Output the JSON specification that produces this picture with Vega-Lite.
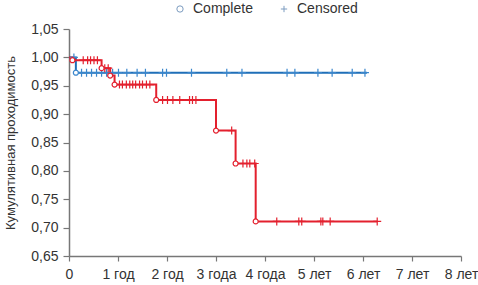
{
  "$schema": "https://vega.github.io/schema/vega-lite/v6.json",
  "width": 392,
  "height": 227,
  "autosize": "none",
  "padding": {"left": 69, "top": 29, "right": 17, "bottom": 29},
  "config": {
    "view": {"stroke": null},
    "font": "Liberation Sans",
    "axis": {"grid": false, "domainColor": "#777", "domainWidth": 1.5, "tickColor": "#777", "tickWidth": 1.2, "labelFont": "Liberation Sans", "labelFontSize": 14, "labelColor": "#333", "titleFont": "Liberation Sans", "titleFontWeight": "normal", "titleColor": "#333"},
    "legend": {"symbolStrokeColor": "#7c9cc0", "symbolFillColor": "white", "symbolStrokeWidth": 1, "symbolOpacity": 1}
  },
  "data": {"values": [
    {"g": "b", "t": 0, "s": 1.0, "type": "start"},
    {"g": "b", "t": 0.1, "s": 1.0, "type": "Censored"},
    {"g": "b", "t": 0.14, "s": 0.973, "type": "Complete"},
    {"g": "b", "t": 0.256, "s": 0.973, "type": "Censored"},
    {"g": "b", "t": 0.358, "s": 0.973, "type": "Censored"},
    {"g": "b", "t": 0.46, "s": 0.973, "type": "Censored"},
    {"g": "b", "t": 0.562, "s": 0.973, "type": "Censored"},
    {"g": "b", "t": 0.665, "s": 0.973, "type": "Censored"},
    {"g": "b", "t": 0.767, "s": 0.973, "type": "Censored"},
    {"g": "b", "t": 0.89, "s": 0.973, "type": "Censored"},
    {"g": "b", "t": 1.01, "s": 0.973, "type": "Censored"},
    {"g": "b", "t": 1.18, "s": 0.973, "type": "Censored"},
    {"g": "b", "t": 1.39, "s": 0.973, "type": "Censored"},
    {"g": "b", "t": 1.56, "s": 0.973, "type": "Censored"},
    {"g": "b", "t": 1.91, "s": 0.973, "type": "Censored"},
    {"g": "b", "t": 1.99, "s": 0.973, "type": "Censored"},
    {"g": "b", "t": 2.5, "s": 0.973, "type": "Censored"},
    {"g": "b", "t": 3.22, "s": 0.973, "type": "Censored"},
    {"g": "b", "t": 3.53, "s": 0.973, "type": "Censored"},
    {"g": "b", "t": 4.45, "s": 0.973, "type": "Censored"},
    {"g": "b", "t": 4.61, "s": 0.973, "type": "Censored"},
    {"g": "b", "t": 5.08, "s": 0.973, "type": "Censored"},
    {"g": "b", "t": 5.37, "s": 0.973, "type": "Censored"},
    {"g": "b", "t": 5.78, "s": 0.973, "type": "Censored"},
    {"g": "b", "t": 6.04, "s": 0.973, "type": "Censored"},
    {"g": "b", "t": 6.08, "s": 0.973, "type": "end"},
    {"g": "r", "t": 0, "s": 1.0, "type": "start"},
    {"g": "r", "t": 0.07, "s": 0.995, "type": "Complete"},
    {"g": "r", "t": 0.29, "s": 0.995, "type": "Censored"},
    {"g": "r", "t": 0.38, "s": 0.995, "type": "Censored"},
    {"g": "r", "t": 0.44, "s": 0.995, "type": "Censored"},
    {"g": "r", "t": 0.51, "s": 0.995, "type": "Censored"},
    {"g": "r", "t": 0.58, "s": 0.995, "type": "Censored"},
    {"g": "r", "t": 0.665, "s": 0.981, "type": "Complete"},
    {"g": "r", "t": 0.73, "s": 0.981, "type": "Censored"},
    {"g": "r", "t": 0.8, "s": 0.981, "type": "Censored"},
    {"g": "r", "t": 0.84, "s": 0.968, "type": "Complete"},
    {"g": "r", "t": 0.93, "s": 0.952, "type": "Complete"},
    {"g": "r", "t": 1.03, "s": 0.952, "type": "Censored"},
    {"g": "r", "t": 1.09, "s": 0.952, "type": "Censored"},
    {"g": "r", "t": 1.17, "s": 0.952, "type": "Censored"},
    {"g": "r", "t": 1.24, "s": 0.952, "type": "Censored"},
    {"g": "r", "t": 1.3, "s": 0.952, "type": "Censored"},
    {"g": "r", "t": 1.36, "s": 0.952, "type": "Censored"},
    {"g": "r", "t": 1.44, "s": 0.952, "type": "Censored"},
    {"g": "r", "t": 1.5, "s": 0.952, "type": "Censored"},
    {"g": "r", "t": 1.58, "s": 0.952, "type": "Censored"},
    {"g": "r", "t": 1.65, "s": 0.952, "type": "Censored"},
    {"g": "r", "t": 1.78, "s": 0.925, "type": "Complete"},
    {"g": "r", "t": 1.91, "s": 0.925, "type": "Censored"},
    {"g": "r", "t": 2.01, "s": 0.925, "type": "Censored"},
    {"g": "r", "t": 2.12, "s": 0.925, "type": "Censored"},
    {"g": "r", "t": 2.26, "s": 0.925, "type": "Censored"},
    {"g": "r", "t": 2.46, "s": 0.925, "type": "Censored"},
    {"g": "r", "t": 2.52, "s": 0.925, "type": "Censored"},
    {"g": "r", "t": 2.59, "s": 0.925, "type": "Censored"},
    {"g": "r", "t": 3.0, "s": 0.871, "type": "Complete"},
    {"g": "r", "t": 3.32, "s": 0.871, "type": "Censored"},
    {"g": "r", "t": 3.4, "s": 0.813, "type": "Complete"},
    {"g": "r", "t": 3.55, "s": 0.813, "type": "Censored"},
    {"g": "r", "t": 3.63, "s": 0.813, "type": "Censored"},
    {"g": "r", "t": 3.69, "s": 0.813, "type": "Censored"},
    {"g": "r", "t": 3.79, "s": 0.813, "type": "Censored"},
    {"g": "r", "t": 3.81, "s": 0.711, "type": "Complete"},
    {"g": "r", "t": 4.24, "s": 0.711, "type": "Censored"},
    {"g": "r", "t": 4.69, "s": 0.711, "type": "Censored"},
    {"g": "r", "t": 4.75, "s": 0.711, "type": "Censored"},
    {"g": "r", "t": 5.14, "s": 0.711, "type": "Censored"},
    {"g": "r", "t": 5.18, "s": 0.711, "type": "Censored"},
    {"g": "r", "t": 5.33, "s": 0.711, "type": "Censored"},
    {"g": "r", "t": 6.29, "s": 0.711, "type": "Censored"}
  ]},
  "encoding": {
    "x": {"field": "t", "type": "quantitative", "scale": {"domain": [0, 8], "nice": false, "zero": false},
      "axis": {"values": [0,1,2,3,4,5,6,7,8], "title": null, "tickSize": 5, "labelPadding": 6, "labelOverlap": false, "labelFlush": false,
        "labelExpr": "datum.value == 0 ? '0' : datum.value == 1 ? '1 год' : datum.value == 2 ? '2 год' : (datum.value == 3 || datum.value == 4) ? datum.value + ' года' : datum.value + ' лет'"}},
    "y": {"field": "s", "type": "quantitative", "scale": {"domain": [0.65, 1.05], "nice": false, "zero": false},
      "axis": {"values": [0.65,0.7,0.75,0.8,0.85,0.9,0.95,1.0,1.05], "title": "Кумулятивная проходимость", "titleFontSize": 13, "titlePadding": 13, "tickSize": 6, "labelPadding": 5, "labelOverlap": false, "labelFlush": false,
        "labelExpr": "replace(format(datum.value, '.2f'), '.', ',')"}}
  },
  "layer": [
    {
      "mark": {"type": "line", "interpolate": "step-after", "strokeWidth": 2},
      "encoding": {
        "detail": {"field": "g"},
        "order": {"field": "t"},
        "color": {"field": "g", "type": "nominal", "scale": {"domain": ["b", "r"], "range": ["#1f6fb8", "#e3202e"]}, "legend": null}
      }
    },
    {
      "transform": [{"filter": "datum.type == 'Censored'"}],
      "mark": {"type": "point", "filled": false, "strokeWidth": 1.2, "opacity": 1, "size": 64},
      "encoding": {
        "stroke": {"field": "g", "type": "nominal", "scale": {"domain": ["b", "r"], "range": ["#3a86cc", "#e3202e"]}, "legend": null},
        "shape": {"field": "type", "type": "nominal",
          "scale": {"domain": ["Complete", "Censored"], "range": ["circle", "M-1,0H1M0,-1V1"]},
          "legend": {"title": null, "orient": "none", "direction": "horizontal", "legendX": 104, "legendY": -27,
            "labelFontSize": 14, "labelColor": "#333", "labelFont": "Liberation Sans", "columnPadding": 24, "symbolSize": 40, "labelOffset": 6,
            "symbolStrokeColor": "#7c9cc0", "symbolFillColor": "white", "symbolStrokeWidth": 1}}
      }
    },
    {
      "transform": [{"filter": "datum.type == 'Complete'"}],
      "mark": {"type": "point", "filled": true, "fill": "white", "strokeWidth": 1.2, "opacity": 1, "size": 25},
      "encoding": {
        "stroke": {"field": "g", "type": "nominal", "scale": {"domain": ["b", "r"], "range": ["#3a86cc", "#e3202e"]}, "legend": null},
        "shape": {"field": "type", "type": "nominal"}
      }
    }
  ]
}
